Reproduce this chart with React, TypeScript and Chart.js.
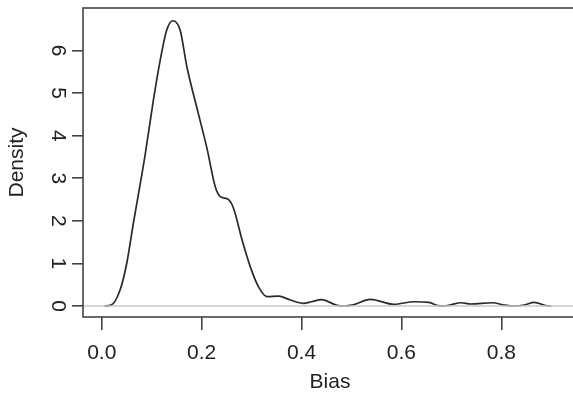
import React, { useEffect, useRef } from "react";
import { Chart, registerables } from "chart.js";

Chart.register(...registerables);

// Density curve (Bias on x, Density on y)
const biasValues = [
  0.005, 0.0187, 0.0367, 0.0502, 0.0634, 0.0768, 0.0869, 0.1035, 0.117, 0.13,
  0.1424, 0.157, 0.1705, 0.1906, 0.2106, 0.2273, 0.2373, 0.254, 0.264, 0.281,
  0.2975, 0.314, 0.331, 0.354, 0.378, 0.404, 0.42, 0.44, 0.471, 0.486, 0.501,
  0.538, 0.585, 0.625, 0.655, 0.672, 0.685, 0.699, 0.719, 0.739, 0.782, 0.806,
  0.825, 0.846, 0.866, 0.889, 0.9,
];
const densityValues = [
  0.0, 0.02, 0.376, 1.01, 1.95, 2.85, 3.55, 4.84, 5.77, 6.48,
  6.7, 6.48, 5.62, 4.65, 3.71, 2.8, 2.57, 2.5, 2.29, 1.55,
  0.92, 0.45, 0.22, 0.23, 0.14, 0.063, 0.1, 0.15, 0.016, 0.0, 0.02,
  0.157, 0.04, 0.1, 0.087, 0.012, 0.0, 0.03, 0.077, 0.047, 0.077, 0.023,
  0.0, 0.023, 0.087, 0.012, 0.0,
];

const xTicks = [0, 0.2, 0.4, 0.6, 0.8];
const yTicks = [0, 1, 2, 3, 4, 5, 6];
const xRange = [-0.0375, 0.9515];
const yRange = [-0.258, 7.0];
const xTitle = "Bias";
const yTitle = "Density";

const FONT = "'Liberation Sans', Arial, Helvetica, sans-serif";

const boxPlugin = {
  id: "box",
  afterDraw(chart: any) {
    const { ctx, chartArea } = chart;
    ctx.save();
    ctx.strokeStyle = "#444";
    ctx.lineWidth = 1.6;
    ctx.strokeRect(chartArea.left, chartArea.top, chartArea.right - chartArea.left, chartArea.bottom - chartArea.top);
    ctx.restore();
  },
};

export default function App() {
  const ref = useRef<HTMLCanvasElement | null>(null);

  useEffect(() => {
    if (!ref.current) return;
    const curve = biasValues.map((x, i) => ({ x, y: densityValues[i] }));
    const zeroLine = [
      { x: xRange[0], y: 0 },
      { x: xRange[1], y: 0 },
    ];
    const chart = new Chart(ref.current, {
      type: "line",
      data: {
        datasets: [
          {
            data: zeroLine,
            borderColor: "#c8c8c8",
            borderWidth: 1.5,
            pointRadius: 0,
            tension: 0,
          },
          {
            data: curve,
            borderColor: "#2a2a2a",
            borderWidth: 1.7,
            pointRadius: 0,
            tension: 0.4,
            cubicInterpolationMode: "monotone",
          },
        ],
      },
      options: {
        animation: false,
        responsive: false,
        devicePixelRatio: 1,
        layout: { padding: { top: 8, right: 0, left: 0, bottom: 0 } },
        plugins: { legend: { display: false }, tooltip: { enabled: false } },
        scales: {
          x: {
            type: "linear",
            min: xRange[0],
            max: xRange[1],
            afterBuildTicks: (s: any) => {
              s.ticks = xTicks.map((v) => ({ value: v }));
            },
            afterFit: (s: any) => {
              s.height = 82;
              s.paddingLeft = 0;
              s.paddingRight = 0;
            },
            border: { display: false },
            grid: {
              drawOnChartArea: false,
              drawTicks: true,
              tickLength: 13,
              color: "#444",
              tickColor: "#444",
              lineWidth: 1.6,
            },
            ticks: {
              color: "#222",
              font: { family: FONT, size: 21 },
              padding: 11,
              maxRotation: 0,
              minRotation: 0,
              autoSkip: false,
              callback: (v: any) => Number(v).toFixed(1),
            },
            title: {
              display: true,
              text: xTitle,
              color: "#222",
              font: { family: FONT, size: 21 },
              padding: { top: 0, bottom: 4 },
            },
          },
          y: {
            type: "linear",
            min: yRange[0],
            max: yRange[1],
            afterBuildTicks: (s: any) => {
              s.ticks = yTicks.map((v) => ({ value: v }));
            },
            afterFit: (s: any) => {
              s.width = 83;
              s.paddingTop = 0;
              s.paddingBottom = 0;
            },
            border: { display: false },
            grid: {
              drawOnChartArea: false,
              drawTicks: true,
              tickLength: 11,
              color: "#444",
              tickColor: "#444",
              lineWidth: 1.6,
            },
            ticks: {
              color: "#222",
              font: { family: FONT, size: 21 },
              padding: 8,
              minRotation: -90,
              maxRotation: -90,
              crossAlign: "center",
              autoSkip: false,
              callback: (v: any) => String(v),
            },
            title: {
              display: true,
              text: yTitle,
              color: "#222",
              font: { family: FONT, size: 21 },
              padding: { top: 5, bottom: 0 },
            },
          },
        },
      },
      plugins: [boxPlugin],
    } as any);
    return () => chart.destroy();
  }, []);

  return (
    <div
      style={{
        position: "fixed",
        left: 0,
        top: 0,
        width: 573,
        height: 399,
        overflow: "hidden",
        background: "#fff",
      }}
    >
      <canvas ref={ref} width={577} height={399} style={{ display: "block" }} />
    </div>
  );
}
